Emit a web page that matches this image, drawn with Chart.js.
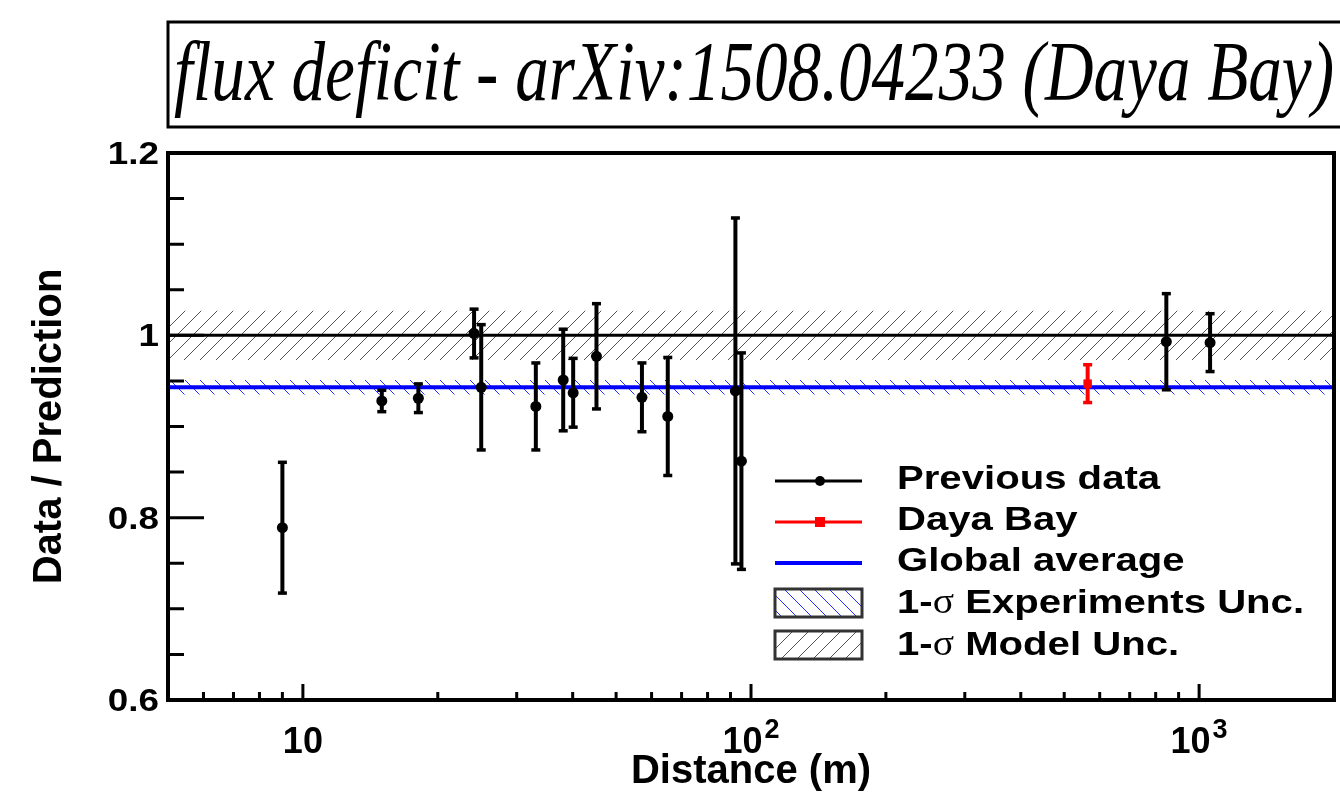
<!DOCTYPE html>
<html>
<head>
<meta charset="utf-8">
<script src="https://cdn.jsdelivr.net/npm/chart.js@4.4.1/dist/chart.umd.min.js"></script>
<style>
  html, body { margin: 0; padding: 0; background: #fff; }
  canvas { display: block; }
</style>
</head>
<body>
<canvas id="c" width="1340" height="796"></canvas>
<script>
// reactor experiments, distance (m) vs measured/predicted flux
const prevDist  = [9.0, 15.0, 18.1, 24.1, 25.0, 33.1, 38.1, 40.1, 45.2, 57.1, 65.2, 92.3, 95.2, 845, 1058];
const prevRatio = [0.789, 0.928, 0.931, 1.002, 0.943, 0.922, 0.951, 0.937, 0.977, 0.932, 0.911, 0.939, 0.862, 0.993, 0.992];
const prevErr   = [0.072, 0.012, 0.016, 0.027, 0.069, 0.048, 0.056, 0.038, 0.058, 0.038, 0.065, 0.190, 0.119, 0.053, 0.032];

const dybDist  = [564];
const dybRatio = [0.947];
const dybErr   = [0.021];

const globalAvg = 0.943;
const expUnc = 0.008;
const modelUnc = 0.027;

const xRange = [5, 2000];
const xLabelDecades = [1, 2, 3];
const yTicks = [0.6, 0.8, 1.0, 1.2];

const titleText = 'flux deficit - arXiv:1508.04233 (Daya Bay)';
const SANS = '"Liberation Sans", Arial, Helvetica, sans-serif';

function hatch(color, forward, step) {
  const c = document.createElement('canvas');
  c.width = c.height = step;
  const g = c.getContext('2d');
  g.strokeStyle = color;
  g.lineWidth = 1;
  g.beginPath();
  if (forward) {
    g.moveTo(0, step); g.lineTo(step, 0);
    g.moveTo(-2, 2); g.lineTo(2, -2);
    g.moveTo(step - 2, step + 2); g.lineTo(step + 2, step - 2);
  } else {
    g.moveTo(0, 0); g.lineTo(step, step);
    g.moveTo(step - 2, -2); g.lineTo(step + 2, 2);
    g.moveTo(-2, step - 2); g.lineTo(2, step + 2);
  }
  g.stroke();
  return g.createPattern(c, 'repeat');
}

const modelHatch = hatch('#555', true, 16);
const expHatch = hatch('#2030ff', false, 15);

function flat(y) {
  return xRange.map(x => ({x: x, y: y}));
}

// text squeezed/stretched along x, like the ROOT output
function stretchText(ctx, text, x, y, font, sx, align) {
  ctx.save();
  ctx.font = font;
  const w = ctx.measureText(text).width * sx;
  let x0 = x;
  if (align === 'right') x0 = x - w;
  if (align === 'center') x0 = x - w / 2;
  ctx.translate(x0, y);
  ctx.scale(sx, 1);
  ctx.textAlign = 'left';
  ctx.fillText(text, 0, 0);
  ctx.restore();
  return w;
}

const errorBars = {
  id: 'errorBars',
  beforeDatasetDraw(chart, args) {
    const ds = chart.data.datasets[args.index];
    if (!ds.errors) return;
    const ctx = chart.ctx, xs = chart.scales.x, ys = chart.scales.y;
    ctx.save();
    ctx.strokeStyle = ds.borderColor;
    ctx.fillStyle = ds.borderColor;
    ctx.lineWidth = 4;
    ds.data.forEach((p, i) => {
      const px = xs.getPixelForValue(p.x);
      const top = ys.getPixelForValue(p.y + ds.errors[i]);
      const bot = ys.getPixelForValue(p.y - ds.errors[i]);
      ctx.beginPath();
      ctx.moveTo(px, top); ctx.lineTo(px, bot);
      ctx.stroke();
      ctx.fillRect(px - 4.5, top - 1.5, 9, 3.5);
      ctx.fillRect(px - 4.5, bot - 2, 9, 3.5);
    });
    ctx.restore();
  }
};

const decor = {
  id: 'decor',
  afterDraw(chart) {
    const ctx = chart.ctx, a = chart.chartArea;
    const xs = chart.scales.x, ys = chart.scales.y;
    ctx.save();
    ctx.fillStyle = '#000';
    ctx.textBaseline = 'alphabetic';

    // frame
    ctx.strokeStyle = '#000';
    ctx.lineWidth = 4;
    ctx.strokeRect(a.left, a.top, a.right - a.left, a.bottom - a.top);

    // y ticks, inside
    ctx.lineWidth = 3;
    ctx.beginPath();
    for (let k = 0; k <= 12; k++) {
      const v = 0.6 + k * 0.05;
      const py = ys.getPixelForValue(v);
      const len = (k % 4 === 0) ? 36 : 16;
      ctx.moveTo(a.left, py); ctx.lineTo(a.left + len, py);
    }
    ctx.stroke();

    // x ticks, inside
    ctx.beginPath();
    for (let d = 0; d <= 3; d++) {
      for (let m = 1; m <= 9; m++) {
        const v = m * Math.pow(10, d);
        if (v <= xRange[0] || v >= xRange[1]) continue;
        const px = xs.getPixelForValue(v);
        const len = (m === 1) ? 16 : 8;
        ctx.moveTo(px, a.bottom); ctx.lineTo(px, a.bottom - len);
      }
    }
    ctx.stroke();

    // y tick labels
    yTicks.forEach(v => {
      const py = ys.getPixelForValue(v);
      stretchText(ctx, String(Math.round(v * 10) / 10), 159, py + 11, 'bold 32px ' + SANS, 1.15, 'right');
    });

    // x tick labels: 10, 10^2, 10^3
    xLabelDecades.forEach(e => {
      const px = xs.getPixelForValue(Math.pow(10, e));
      const base = 'bold 36px ' + SANS, sup = 'bold 27px ' + SANS;
      ctx.font = base;
      const w1 = ctx.measureText('10').width;
      ctx.font = sup;
      const w2 = e > 1 ? ctx.measureText(String(e)).width + 2 : 0;
      const x0 = px - (w1 + w2) / 2;
      ctx.font = base;
      ctx.fillText('10', x0, 753);
      if (e > 1) {
        ctx.font = sup;
        ctx.fillText(String(e), x0 + w1 + 2, 738);
      }
    });

    // title box
    ctx.lineWidth = 3;
    ctx.strokeStyle = '#000';
    ctx.strokeRect(168, 22, 1190, 105);
    ctx.font = 'italic 84px "Liberation Serif", "Times New Roman", serif';
    const tw = ctx.measureText(titleText).width;
    ctx.save();
    ctx.translate(174, 100);
    ctx.scale(1160 / tw, 1);
    ctx.fillText(titleText, 0, 0);
    ctx.restore();

    // legend
    const lx0 = 775, lx1 = 862, mx = 820, tx = 897;
    const lf = 'bold 34px ' + SANS, sxL = 1.18;

    ctx.strokeStyle = '#000'; ctx.lineWidth = 3;
    ctx.beginPath(); ctx.moveTo(lx0, 481); ctx.lineTo(lx1, 481); ctx.stroke();
    ctx.beginPath(); ctx.arc(mx, 481, 5, 0, Math.PI * 2); ctx.fill();
    stretchText(ctx, 'Previous data', tx, 489, lf, sxL, 'left');

    ctx.strokeStyle = '#f00';
    ctx.beginPath(); ctx.moveTo(lx0, 522); ctx.lineTo(lx1, 522); ctx.stroke();
    ctx.fillStyle = '#f00'; ctx.fillRect(mx - 5, 517, 10, 10);
    ctx.fillStyle = '#000';
    stretchText(ctx, 'Daya Bay', tx, 530, lf, sxL, 'left');

    ctx.strokeStyle = '#00f'; ctx.lineWidth = 4;
    ctx.beginPath(); ctx.moveTo(lx0, 563); ctx.lineTo(lx1, 563); ctx.stroke();
    stretchText(ctx, 'Global average', tx, 571, lf, sxL, 'left');

    const boxes = [[589, expHatch, 'Experiments Unc.', 613], [631, modelHatch, 'Model Unc.', 655]];
    boxes.forEach(([by, pat, label, base]) => {
      ctx.fillStyle = '#fff';
      ctx.fillRect(lx0, by, lx1 - lx0, 28);
      ctx.fillStyle = pat;
      ctx.fillRect(lx0, by, lx1 - lx0, 28);
      ctx.strokeStyle = '#333'; ctx.lineWidth = 3;
      ctx.strokeRect(lx0, by, lx1 - lx0, 28);
      ctx.fillStyle = '#000';
      let x = tx;
      x += stretchText(ctx, '1-', x, base, lf, sxL, 'left');
      x += stretchText(ctx, '\u03c3', x, base, '36px "Liberation Serif", serif', 1.1, 'left');
      stretchText(ctx, ' ' + label, x, base, lf, sxL, 'left');
    });

    ctx.restore();
  }
};

new Chart(document.getElementById('c'), {
  type: 'scatter',
  data: {
    datasets: [
      {
        label: 'Daya Bay',
        data: dybDist.map((x, i) => ({x: x, y: dybRatio[i]})),
        errors: dybErr,
        pointStyle: 'rect',
        pointRadius: 6,
        backgroundColor: '#f00',
        borderColor: '#f00',
        borderWidth: 0,
        order: 0
      },
      {
        label: 'Previous data',
        data: prevDist.map((x, i) => ({x: x, y: prevRatio[i]})),
        errors: prevErr,
        pointRadius: 5.5,
        backgroundColor: '#000',
        borderColor: '#000',
        borderWidth: 0,
        order: 1
      },
      {
        type: 'line',
        label: 'Global average',
        data: flat(globalAvg),
        borderColor: '#0000ff',
        borderWidth: 4,
        pointRadius: 0,
        fill: false,
        order: 2
      },
      {
        type: 'line',
        label: 'Prediction',
        data: flat(1.0),
        borderColor: '#000',
        borderWidth: 3,
        pointRadius: 0,
        fill: false,
        order: 3
      },
      {
        type: 'line',
        label: '1-\u03c3 Experiments Unc.',
        data: flat(globalAvg + expUnc),
        fill: {value: globalAvg - expUnc},
        backgroundColor: expHatch,
        borderWidth: 0,
        pointRadius: 0,
        order: 4
      },
      {
        type: 'line',
        label: '1-\u03c3 Model Unc.',
        data: flat(1.0 + modelUnc),
        fill: {value: 1.0 - modelUnc},
        backgroundColor: modelHatch,
        borderWidth: 0,
        pointRadius: 0,
        order: 5
      }
    ]
  },
  options: {
    responsive: false,
    animation: false,
    layout: {padding: {top: 153, right: 4, left: 0, bottom: 0}},
    plugins: {
      legend: {display: false},
      tooltip: {enabled: false}
    },
    scales: {
      x: {
        type: 'logarithmic',
        min: xRange[0],
        max: xRange[1],
        grid: {display: false, drawTicks: false},
        border: {display: false},
        ticks: {display: false},
        afterFit(s) { s.height = 96; s.paddingLeft = 0; s.paddingRight = 0; },
        title: {
          display: true,
          text: 'Distance (m)',
          color: '#000',
          font: {family: SANS, size: 40, weight: 'bold'},
          padding: {top: 0, bottom: 0}
        }
      },
      y: {
        min: 0.6,
        max: 1.2,
        grid: {display: false, drawTicks: false},
        border: {display: false},
        ticks: {display: false},
        afterFit(s) { s.width = 168; s.paddingTop = 0; s.paddingBottom = 0; },
        title: {
          display: true,
          text: 'Data / Prediction',
          color: '#000',
          font: {family: SANS, size: 40, weight: 'bold'},
          padding: {top: 26, bottom: 0}
        }
      }
    }
  },
  plugins: [errorBars, decor]
});
</script>
</body>
</html>
